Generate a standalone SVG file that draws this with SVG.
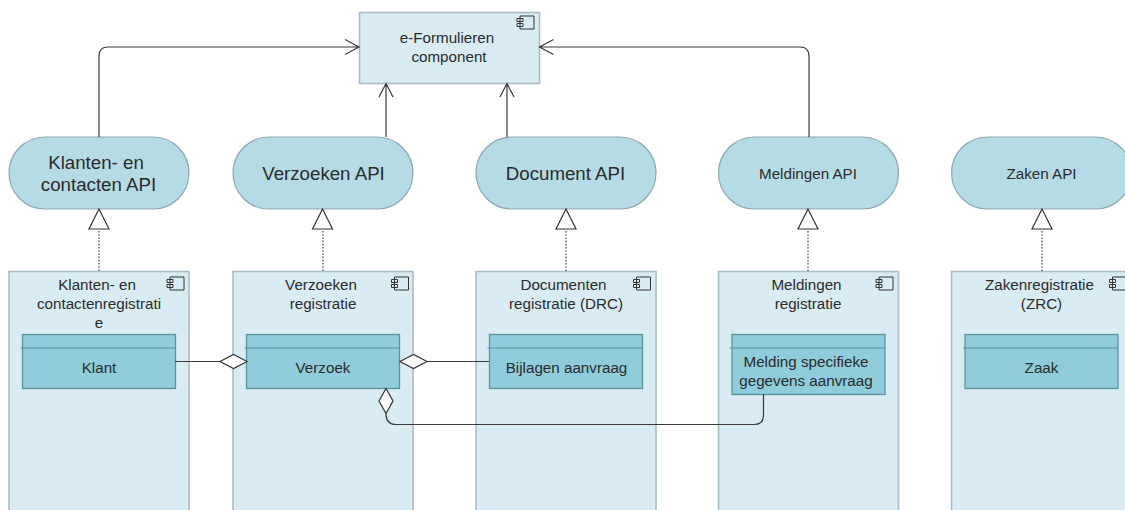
<svg xmlns="http://www.w3.org/2000/svg" width="1125" height="510" viewBox="0 0 1125 510">
<defs>
<style>
text{font-family:"Liberation Sans",Arial,sans-serif;fill:#2b2b2b;text-anchor:middle}
.comp{fill:#d9ecf3;stroke:#aabdc5;stroke-width:1.6}
.api{fill:#b5dbe7;stroke:#8fa8b2;stroke-width:1.2}
.obj{fill:#90ccdc;stroke:#5f929f;stroke-width:1.3}
.hdr{stroke:#5f929f;stroke-width:1;fill:none}
.ic{fill:none;stroke:#333;stroke-width:1}
.t15{font-size:15.2px}
.t18{font-size:18.7px}
.c{fill:none;stroke:#3a3a3a;stroke-width:1.2}
.dot{fill:none;stroke:#333;stroke-width:1.1;stroke-dasharray:1.6 1.6}
.tri{fill:#fff;stroke:#333;stroke-width:1.2}
.dia{fill:#fff;stroke:#333;stroke-width:1.2}
</style>
<g id="icon"><path class="ic" d="M4 1H18V14H4ZM1 3.500H7V6.500H1ZM1 8.500H7V11.500H1Z"/></g>
</defs>
<g id="node-eform"><rect class="comp" x="359.500" y="12.500" width="180" height="71"/><use href="#icon" x="516" y="15"/><text class="t15" x="447" y="43">e-Formulieren</text><text class="t15" x="449" y="62">component</text></g>
<g id="node-api-klanten"><rect class="api" x="9" y="137" width="180" height="72" rx="36"/><text class="t18" x="96" y="169">Klanten- en</text><text class="t18" x="98.500" y="191">contacten API</text></g>
<g id="node-api-verzoeken"><rect class="api" x="233" y="137" width="180" height="72" rx="36"/><text class="t18" x="323.500" y="180">Verzoeken API</text></g>
<g id="node-api-document"><rect class="api" x="476" y="137" width="180" height="72" rx="36"/><text class="t18" x="565.500" y="180">Document API</text></g>
<g id="node-api-meldingen"><rect class="api" x="718.500" y="137" width="180" height="72" rx="36"/><text class="t15" x="808" y="179">Meldingen API</text></g>
<g id="node-api-zaken"><rect class="api" x="951.500" y="137" width="180" height="72" rx="36"/><text class="t15" x="1041.500" y="179">Zaken API</text></g>
<g id="node-reg-klanten"><rect class="comp" x="9" y="271.500" width="180" height="250"/><use href="#icon" x="166" y="276"/><text class="t15" x="97" y="290">Klanten- en</text><text class="t15" x="99" y="309">contactenregistrati</text><text class="t15" x="99" y="328">e</text></g>
<g id="node-reg-verzoeken"><rect class="comp" x="233" y="271.500" width="180" height="250"/><use href="#icon" x="390.500" y="276"/><text class="t15" x="321" y="290">Verzoeken</text><text class="t15" x="323" y="309">registratie</text></g>
<g id="node-reg-documenten"><rect class="comp" x="476" y="271.500" width="180" height="250"/><use href="#icon" x="632.500" y="276"/><text class="t15" x="563.500" y="290">Documenten</text><text class="t15" x="566" y="309">registratie (DRC)</text></g>
<g id="node-reg-meldingen"><rect class="comp" x="718.500" y="271.500" width="180" height="250"/><use href="#icon" x="875" y="276"/><text class="t15" x="806.500" y="290">Meldingen</text><text class="t15" x="808" y="309">registratie</text></g>
<g id="node-reg-zaken"><rect class="comp" x="951.500" y="271.500" width="180" height="250"/><use href="#icon" x="1108.500" y="276"/><text class="t15" x="1039.500" y="290">Zakenregistratie</text><text class="t15" x="1041.500" y="309">(ZRC)</text></g>
<g id="node-klant"><rect class="obj" x="22.500" y="334.500" width="153" height="54"/><path class="hdr" d="M20.500 348H175.500"/><text class="t15" x="99" y="373">Klant</text></g>
<g id="node-verzoek"><rect class="obj" x="246.500" y="334.500" width="153" height="54"/><path class="hdr" d="M244.500 348H399.500"/><text class="t15" x="323" y="373">Verzoek</text></g>
<g id="node-bijlagen"><rect class="obj" x="489.500" y="334.500" width="153" height="54"/><path class="hdr" d="M487.500 348H642.500"/><text class="t15" x="566.500" y="373">Bijlagen aanvraag</text></g>
<g id="node-melding"><rect class="obj" x="732" y="334.500" width="153" height="60"/><path class="hdr" d="M729.500 348H885"/><text class="t15" x="806" y="367">Melding specifieke</text><text class="t15" x="806" y="386">gegevens aanvraag</text></g>
<g id="node-zaak"><rect class="obj" x="965" y="334.500" width="153" height="54"/><path class="hdr" d="M963 348H1118"/><text class="t15" x="1041.500" y="373">Zaak</text></g>
<g id="connectors">
<path class="c" d="M99 137V56Q99 47 108 47H359M345 39.500L359 47L345 54.500"/>
<path class="c" d="M386 137V83.500M379 97L386 83.500L393 97"/>
<path class="c" d="M507 137V83.500M500 97L507 83.500L514 97"/>
<path class="c" d="M809 137V56Q809 47 800 47H539.500M553.500 39.500L539.500 47L553.500 54.500"/>
<path class="dot" d="M99 271V230"/><path class="tri" d="M99 209L89 229H109Z"/>
<path class="dot" d="M323 271V230"/><path class="tri" d="M322.500 209L312.500 229H332.500Z"/>
<path class="dot" d="M566 271V230"/><path class="tri" d="M566 209L556 229H576Z"/>
<path class="dot" d="M808 271V230"/><path class="tri" d="M808 209L798 229H818Z"/>
<path class="dot" d="M1042 271V230"/><path class="tri" d="M1042 209L1032 229H1052Z"/>
<path class="c" d="M175 361.500H220"/><path class="dia" d="M247 361.500L233.500 354.500L220 361.500L233.500 368.500Z"/>
<path class="c" d="M489 361.500H427"/><path class="dia" d="M400 361.500L413.500 354.500L427 361.500L413.500 368.500Z"/>
<path class="c" d="M763.500 394V415Q763.500 424.500 754 424.500H396Q386 424.500 386 414"/><path class="dia" d="M386 388.500L379 401L386 413.500L393 401Z"/>
</g>
</svg>
